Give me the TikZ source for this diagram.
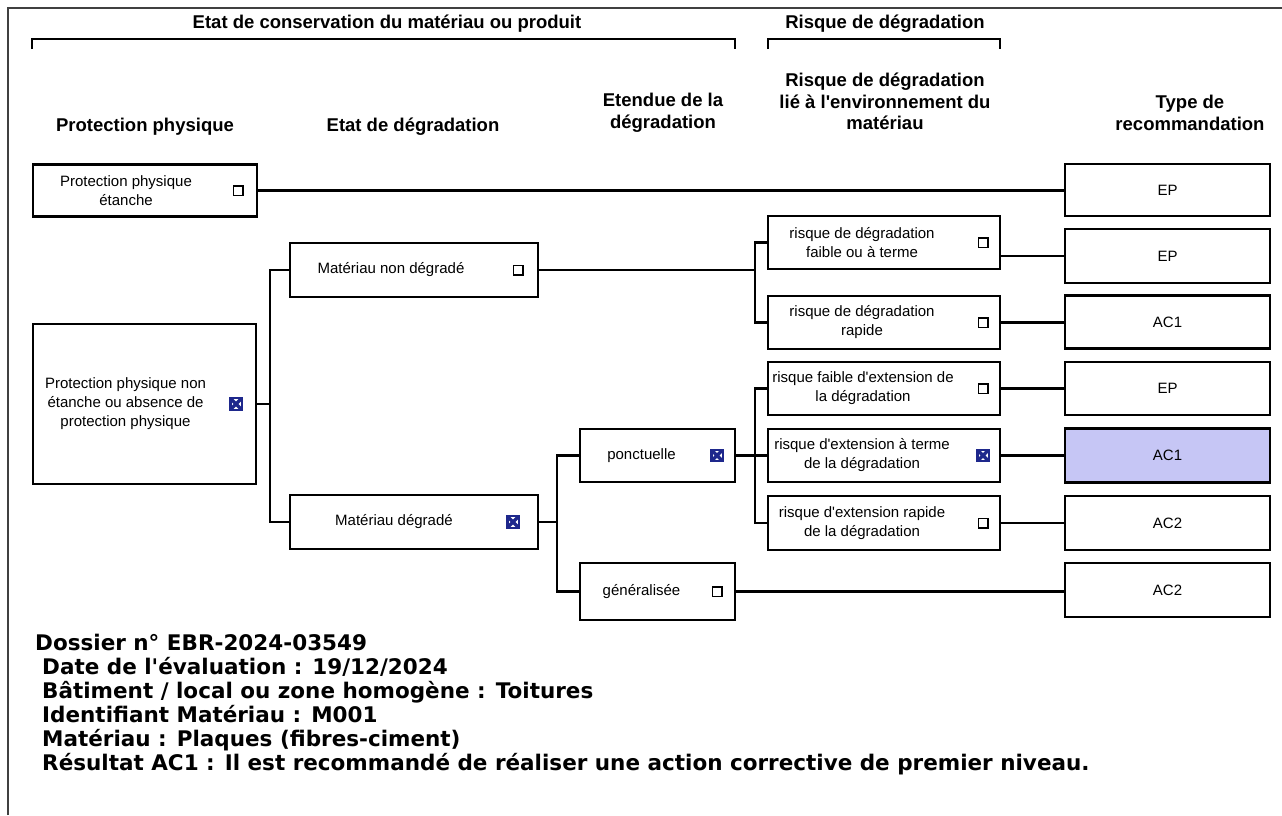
\documentclass[tikz,border=0pt]{standalone}
\usepackage{fontspec}
\setmainfont{Liberation Sans}
\newfontfamily\infofont{DejaVu Sans}
\definecolor{navy}{RGB}{30,40,140}
\definecolor{choix}{RGB}{198,198,245}
\newcommand{\apos}{\textquotesingle}

\begin{document}
\begin{tikzpicture}[x=1pt,y=-1pt,
  box/.style={draw,line width=2.1pt,inner sep=0pt,font=\fontsize{15}{19}\selectfont},
  txt/.style={align=center,inner sep=0pt,font=\fontsize{15}{19}\selectfont},
  head/.style={align=center,inner sep=0pt,font=\fontsize{18.5}{21.5}\selectfont\bfseries},
  lien/.style={line width=2.1pt},
  vide/.style={draw,fill=white,line width=1.5pt,minimum size=9.5pt,inner sep=0pt},
  coche/.style={draw=navy,fill=white,line width=2.4pt,minimum size=11.5pt,inner sep=0pt,
    path picture={\draw[navy,line width=3.4pt]
      (path picture bounding box.south west) -- (path picture bounding box.north east)
      (path picture bounding box.north west) -- (path picture bounding box.south east);}},
  info/.style={anchor=base west,inner sep=0pt,font=\infofont\bfseries\fontsize{21.5}{24}\selectfont}
  ]
        \useasboundingbox (0,0) rectangle (1282,815) ;
        % cadre
        \draw[line width=1.4pt,black!75] (8,815) -- (8,8) -- (1282,8) ;
        % accolades du haut
        \draw[line width=2.1pt] (32,49) -- (32,39) -- (735,39) -- (735,49) ;
        \draw[line width=2.1pt] (768,49) -- (768,39) -- (1000,39) -- (1000,49) ;
        \node[head] (cons) at (387,24) {Etat de conservation du matériau ou produit} ;
        \node[head] (risq) at (885,24) {Risque de dégradation} ;
        % titres des colonnes
        \node[head] (h1) at (145,127) {Protection physique} ;
        \node[head] (h2) at (413,127) {Etat de dégradation} ;
        \node[head] (h3) at (663,113) {Etendue de la\\dégradation} ;
        \node[head] (h4) at (885,101.5) {Risque de dégradation\\lié à l\apos environnement du\\matériau} ;
        \node[head] (h5) at (1190,113) {Type de\\recommandation} ;

        % protection physique
        \node[box,minimum width=224,minimum height=52] (pe) at (145,190.5) {} ;
        \node[txt] (pe-t) at ([xshift=-19]pe.center) {Protection physique\\étanche} ;
        \node[vide] (pe-c) at ([xshift=-20]pe.east) {} ;
        \node[box,minimum width=223,minimum height=160] (pne) at (144.5,404) {} ;
        \node[txt] (pne-t) at ([xshift=-19]pne.center) {Protection physique non\\étanche ou absence de\\protection physique} ;
        \node[coche] (pne-c) at ([xshift=-21]pne.east) {} ;

        % etat de degradation
        \node[box,minimum width=248,minimum height=54] (mnd) at (414,270) {} ;
        \node[txt] (mnd-t) at ([xshift=-23]mnd.center) {Matériau non dégradé} ;
        \node[vide] (mnd-c) at ([xshift=-21]mnd.east) {} ;
        \node[box,minimum width=248,minimum height=54] (md) at (414,522) {} ;
        \node[txt] (md-t) at ([xshift=-20]md.center) {Matériau dégradé} ;
        \node[coche] (md-c) at ([xshift=-26]md.east) {} ;

        % etendue
        \node[box,minimum width=155,minimum height=53] (pon) at (657.5,455.5) {} ;
        \node[txt] (pon-t) at ([xshift=-16]pon.center) {ponctuelle} ;
        \node[coche] (pon-c) at ([xshift=-19]pon.east) {} ;
        \node[box,minimum width=155,minimum height=57] (gen) at (657.5,591.5) {} ;
        \node[txt] (gen-t) at ([xshift=-16]gen.center) {généralisée} ;
        \node[vide] (gen-c) at ([xshift=-19]gen.east) {} ;

        % risque lie a l'environnement
        \node[box,minimum width=232,minimum height=53] (r1) at (884,242.5) {} ;
        \node[txt] (r1-t) at ([xshift=-22]r1.center) {risque de dégradation\\faible ou à terme} ;
        \node[vide] (r1-c) at ([xshift=-18]r1.east) {} ;
        \node[box,minimum width=232,minimum height=53] (r2) at (884,322.5) {} ;
        \node[txt] (r2-t) at ([xshift=-22]r2.center) {risque de dégradation\\rapide} ;
        \node[vide] (r2-c) at ([xshift=-18]r2.east) {} ;
        \node[box,minimum width=232,minimum height=53] (r3) at (884,388.5) {} ;
        \node[txt] (r3-t) at ([xshift=-21]r3.center) {risque faible d\apos extension de\\la dégradation} ;
        \node[vide] (r3-c) at ([xshift=-18]r3.east) {} ;
        \node[box,minimum width=232,minimum height=53] (r4) at (884,455.5) {} ;
        \node[txt] (r4-t) at ([xshift=-22]r4.center) {risque d\apos extension à terme\\de la dégradation} ;
        \node[coche] (r4-c) at ([xshift=-18]r4.east) {} ;
        \node[box,minimum width=232,minimum height=54] (r5) at (884,523) {} ;
        \node[txt] (r5-t) at ([xshift=-22]r5.center) {risque d\apos extension rapide\\de la dégradation} ;
        \node[vide] (r5-c) at ([xshift=-18]r5.east) {} ;

        % type de recommandation
        \node[box,minimum width=205,minimum height=52] (t1) at (1167.5,190) {EP} ;
        \node[box,minimum width=205,minimum height=54] (t2) at (1167.5,256) {EP} ;
        \node[box,minimum width=205,minimum height=53] (t3) at (1167.5,322) {AC1} ;
        \node[box,minimum width=205,minimum height=53] (t4) at (1167.5,388.5) {EP} ;
        \node[box,minimum width=205,minimum height=54,fill=choix] (t5) at (1167.5,455.5) {AC1} ;
        \node[box,minimum width=205,minimum height=54] (t6) at (1167.5,523) {AC2} ;
        \node[box,minimum width=205,minimum height=54] (t7) at (1167.5,590) {AC2} ;

        % liaisons
        \coordinate (j1) at (270,404) ;
        \coordinate (j2) at (755,270) ;
        \coordinate (j3) at (557,522) ;
        \coordinate (j4) at (755,455.5) ;
        \draw[lien] (pe.east) -- (pe.east -| t1.west) ;
        \draw[lien] (pne.east) -- (j1) ;
        \draw[lien] (mnd.west) -| (j1) |- (md.west) ;
        \draw[lien] (mnd.east) -- (j2) ;
        \draw[lien] (r1.west) -| (j2) |- (r2.west) ;
        \draw[lien] (md.east) -- (j3) ;
        \draw[lien] (pon.west) -| (j3) |- (gen.west) ;
        \draw[lien] (pon.east) -- (r4.west) ;
        \draw[lien] (r3.west) -| (j4) |- (r5.west) ;
        \draw[lien] (gen.east) -- (gen.east -| t7.west) ;
        \draw[lien] (r1.east |- t2.west) -- (t2.west) ;
        \draw[lien] (r2.east) -- (r2.east -| t3.west) ;
        \draw[lien] (r3.east) -- (t4.west) ;
        \draw[lien] (r4.east) -- (t5.west) ;
        \draw[lien] (r5.east) -- (t6.west) ;

        % fiche
        \node[info] (dossier) at (35,650) {Dossier n° EBR-2024-03549} ;
        \node[info] (date) at (42,674) {Date de l\apos évaluation : 19/12/2024} ;
        \node[info] (bat) at (42,698) {Bâtiment / local ou zone homogène : Toitures} ;
        \node[info] (ident) at (42,722) {Identifiant Matériau : M001} ;
        \node[info] (mat) at (42,746) {Matériau : Plaques (fibres-ciment)} ;
        \node[info] (res) at (42,770) {Résultat AC1 : Il est recommandé de réaliser une action corrective de premier niveau.} ;
\end{tikzpicture}
\end{document}
